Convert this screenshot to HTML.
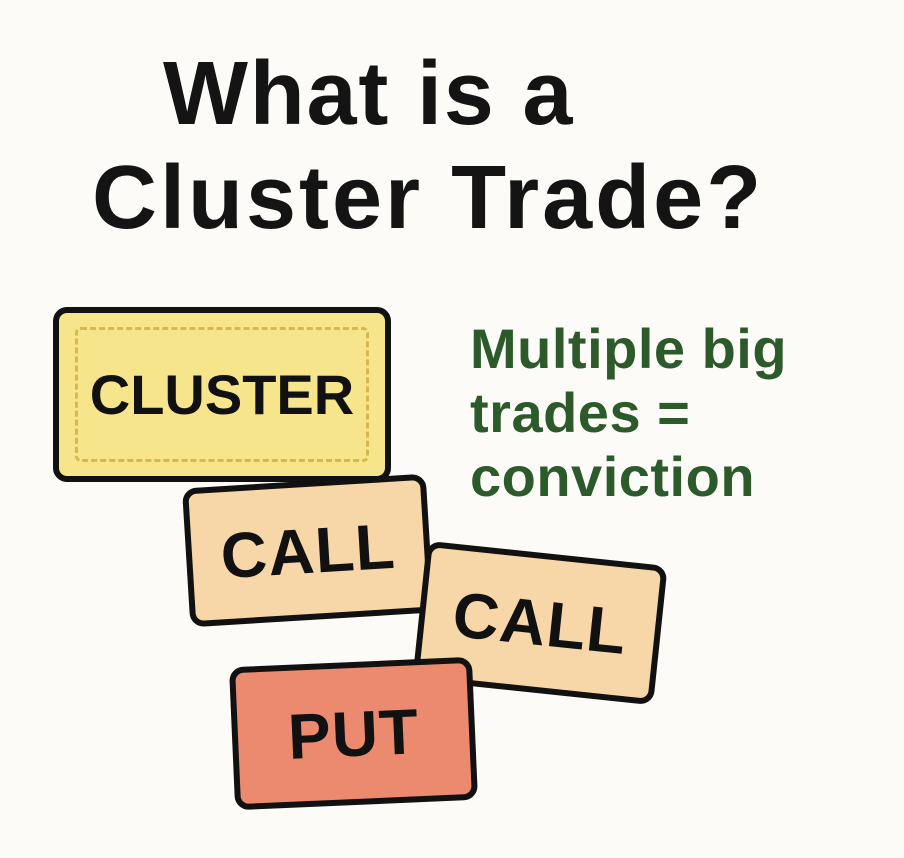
<!DOCTYPE html>
<html><head><style>
body{margin:0;width:904px;height:858px;background:#fcfbf7;position:relative;overflow:hidden;font-family:"Liberation Sans",sans-serif}
.t{position:absolute;font-weight:bold;color:#141414;white-space:nowrap}
.box{position:absolute;border:6px solid #111;border-radius:14px;box-sizing:border-box;display:flex;align-items:center;justify-content:center;font-weight:bold;color:#111}
.g{position:absolute;left:470px;color:#2c5a2a;font-weight:bold;font-size:56px;letter-spacing:0.5px;line-height:64px;top:317px;white-space:nowrap}
</style></head><body>
<div class="t" style="left:163px;top:43px;font-size:90px;letter-spacing:1.8px">What is a</div>
<div class="t" style="left:92px;top:147px;font-size:90px;letter-spacing:3px">Cluster Trade?</div>
<div class="box" style="left:53px;top:307px;width:338px;height:175px;background:#f7e58c;font-size:56px;letter-spacing:0px">
<div style="position:absolute;left:16px;top:14px;right:16px;bottom:14px;border:3px dashed #d6b84e;border-radius:6px"></div>
<span style="position:relative">CLUSTER</span></div>
<div class="box" style="left:186px;top:481px;width:244px;height:139px;background:#f7d6a8;font-size:64px;letter-spacing:1px;transform:rotate(-3.5deg)">CALL</div>
<div class="box" style="left:419px;top:553px;width:242px;height:140px;background:#f7d6a8;font-size:64px;letter-spacing:1px;transform:rotate(6deg)">CALL</div>
<div class="box" style="left:232px;top:662px;width:243px;height:143px;background:#ec8a70;font-size:64px;letter-spacing:1px;transform:rotate(-2.5deg)">PUT</div>
<div class="g">Multiple big<br>trades =<br>conviction</div>
</body></html>
